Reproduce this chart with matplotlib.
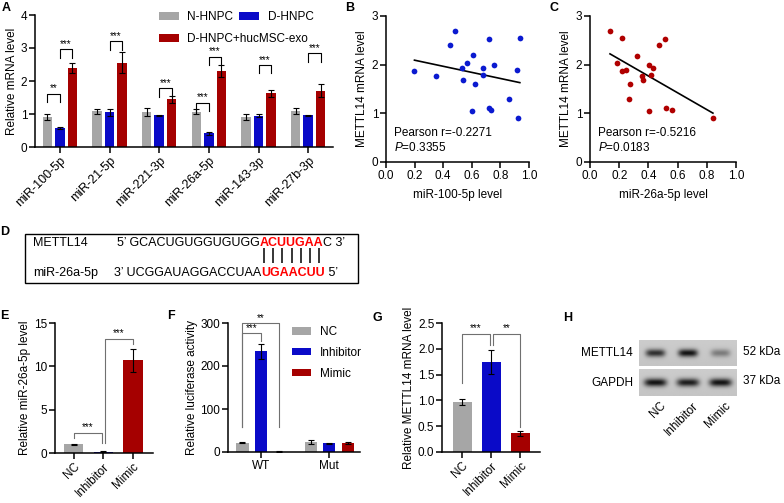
import numpy as np
import matplotlib
matplotlib.use("Agg")
import matplotlib.pyplot as plt
from matplotlib.patches import Rectangle

plt.rcParams['font.family'] = ['Liberation Sans', 'DejaVu Sans']
plt.rcParams['font.size'] = 8.5
plt.rcParams['mathtext.fontset'] = 'custom'
plt.rcParams['mathtext.rm'] = 'Liberation Sans'
plt.rcParams['mathtext.it'] = 'Liberation Sans:italic'

W, H = 784, 503
GREY = '#a6a6a6'
BLUE = '#0a0ac8'
RED = '#a50000'
BRK = '#707070'

# ---- A: qPCR of miRNAs
mirnas = ['miR-100-5p', 'miR-21-5p', 'miR-221-3p', 'miR-26a-5p', 'miR-143-3p', 'miR-27b-3p']
groups_a = ['N-HNPC', 'D-HNPC', 'D-HNPC+hucMSC-exo']
a_n = [0.91, 1.08, 1.05, 1.07, 0.91, 1.10]
a_n_err = [0.08, 0.08, 0.12, 0.07, 0.10, 0.09]
a_d = [0.57, 1.05, 0.96, 0.41, 0.95, 0.96]
a_d_err = [0.03, 0.10, 0.02, 0.04, 0.04, 0.01]
a_exo = [2.39, 2.56, 1.44, 2.31, 1.63, 1.71]
a_exo_err = [0.16, 0.31, 0.12, 0.19, 0.11, 0.19]
# (miRNA index, bar i, bar j, bracket height, label)
a_sig = [(0, 0, 1, 1.62, '**'), (0, 1, 2, 2.96, '***'), (1, 1, 2, 3.2, '***'),
         (2, 1, 2, 1.78, '***'), (3, 0, 1, 1.34, '***'), (3, 1, 2, 2.74, '***'),
         (4, 1, 2, 2.48, '***'), (5, 1, 2, 2.84, '***')]

# ---- B / C: correlations
b_x = [0.199, 0.351, 0.449, 0.484, 0.531, 0.536, 0.566, 0.608, 0.625, 0.601,
       0.678, 0.678, 0.718, 0.753, 0.723, 0.734, 0.863, 0.917, 0.924, 0.936]
b_y = [1.87, 1.76, 2.40, 2.70, 1.94, 1.68, 2.04, 2.19, 1.61, 1.04,
       1.94, 1.78, 2.53, 1.99, 1.11, 1.06, 1.29, 1.90, 0.91, 2.54]
b_text = ['Pearson r=-0.2271', '$P$=0.3355']
c_x = [0.137, 0.219, 0.185, 0.219, 0.249, 0.274, 0.269, 0.320, 0.356, 0.365,
       0.402, 0.416, 0.429, 0.406, 0.475, 0.514, 0.523, 0.562, 0.842]
c_y = [2.70, 2.54, 2.04, 1.87, 1.90, 1.61, 1.29, 2.18, 1.76, 1.68,
       2.00, 1.78, 1.94, 1.04, 2.40, 2.53, 1.11, 1.06, 0.91]
c_text = ['Pearson r=-0.5216', '$P$=0.0183']

# ---- E: miR-26a-5p level
lanes = ['NC', 'Inhibitor', 'Mimic']
e_vals = [1.0, 0.15, 10.7]
e_err = [0.08, 0.05, 1.3]
# (bar i, bar j, height, left leg bottom, right leg bottom, label)
e_sig = [(0, 1, 2.35, 1.7, 1.1, '***'), (1, 2, 13.2, 1.15, 12.6, '***')]

# ---- F: luciferase
f_groups = ['WT', 'Mut']
f_nc = [22, 23]
f_nc_err = [2, 4]
f_inh = [234, 20]
f_inh_err = [17, 2]
f_mim = [1, 21]
f_mim_err = [0.5, 2]
f_sig = [(0, 1, 276, 58, 258, '***'), (0, 2, 300, 58, 58, '**')]

# ---- G: METTL14 mRNA
g_vals = [0.975, 1.745, 0.366]
g_err = [0.06, 0.23, 0.05]
g_sig = [(0, 1, 2.29, 1.33, 2.07, '***'), (1, 2, 2.29, 2.07, 0.49, '**')]

# ---- H: western blot band strength
blot_rows = ['METTL14', 'GAPDH']
blot_kda = ['52 kDa', '37 kDa']
mettl14_band = [0.80, 0.95, 0.40]
gapdh_band = [0.95, 0.90, 0.95]

fig = plt.figure(figsize=(W / 100, H / 100), dpi=100)
ov = fig.add_axes([0, 0, 1, 1])
ov.axis('off')


def px_axes(left, top, right, bottom):
    ax = fig.add_axes([left / W, 1 - bottom / H, (right - left) / W, (bottom - top) / H])
    for s in ('top', 'right'):
        ax.spines[s].set_visible(False)
    for s in ('left', 'bottom'):
        ax.spines[s].set_linewidth(1.1)
    ax.tick_params(direction='out', length=4, width=1.1, labelsize=8.5, pad=1.5)
    ax.patch.set_alpha(0)
    return ax


def bracket(ax, x1, x2, y, b1, b2, lab, color):
    ax.plot([x1, x1, x2, x2], [b1, y, y, b2], color=color, lw=0.8, clip_on=False)
    ax.annotate(lab, ((x1 + x2) / 2, y), xytext=(0, 0.3), textcoords='offset points',
                ha='center', va='bottom', fontsize=7, annotation_clip=False)


def errs(ax, x, v, e):
    ax.errorbar(x, v, yerr=e, fmt='none', ecolor='k', elinewidth=0.8, capsize=2.3, capthick=0.8)


# A
ax = px_axes(35, 15, 333, 147)
x = np.arange(len(mirnas))
off, bw = 0.25, 0.19
handles = []
for i, (v, e, c) in enumerate([(a_n, a_n_err, GREY), (a_d, a_d_err, BLUE), (a_exo, a_exo_err, RED)]):
    handles.append(ax.bar(x + (i - 1) * off, v, bw, color=c, label=groups_a[i]))
    errs(ax, x + (i - 1) * off, v, e)
for g, i, j, h, lab in a_sig:
    bracket(ax, g + (i - 1) * off, g + (j - 1) * off, h, h - 0.25, h - 0.25, lab, 'k')
ax.set_xlim(-0.5, 5.5)
ax.set_ylim(0, 4)
ax.set_yticks(range(5))
ax.set_xticks(x, mirnas, rotation=45, ha='right', rotation_mode='anchor', fontsize=9)
ax.set_ylabel('Relative mRNA level', labelpad=2)
kw = dict(frameon=False, fontsize=8.5, handlelength=1.7, handleheight=0.6, handletextpad=0.7,
          borderpad=0, borderaxespad=0, loc='upper left', bbox_transform=ov.transData)
leg1 = ax.legend(handles=handles[:2], ncol=2, columnspacing=0.5, bbox_to_anchor=(159, 11), **kw)
ax.add_artist(leg1)
ax.legend(handles=handles[2:], bbox_to_anchor=(159, 33), **kw)

# B, C
for (l, r), xs, ys, col, xl, txt in [((386, 529), b_x, b_y, '#0b1ad0', 'miR-100-5p level', b_text),
                                     ((590, 736), c_x, c_y, '#b00000', 'miR-26a-5p level', c_text)]:
    ax = px_axes(l, 16, r, 162)
    ax.scatter(xs, ys, s=17, color=col, linewidths=0, zorder=3)
    k, b0 = np.polyfit(xs, ys, 1)
    xx = np.array([min(xs), max(xs)])
    ax.plot(xx, k * xx + b0, color='k', lw=1.2)
    ax.set_xlim(0, 1)
    ax.set_ylim(0, 3)
    ax.set_yticks(range(4))
    ax.set_xticks(np.linspace(0, 1, 6), ['%.1f' % t for t in np.linspace(0, 1, 6)])
    ax.set_xlabel(xl, labelpad=5)
    ax.set_ylabel('METTL14 mRNA level', labelpad=3)
    ax.text(0.055, 0.6, txt[0], va='center', fontsize=8.5)
    ax.text(0.055, 0.3, txt[1], va='center', fontsize=8.5)

# E
ax = px_axes(55, 323, 153, 453)
xe = np.arange(len(lanes))
ax.bar(xe, e_vals, 0.65, color=[GREY, BLUE, RED])
errs(ax, xe, e_vals, e_err)
for i, j, h, b1, b2, lab in e_sig:
    bracket(ax, xe[i] + (0.06 if i == 1 else 0), xe[j] - (0.06 if j == 1 else 0), h, b1, b2, lab, BRK)
ax.set_xlim(-0.64, 2.68)
ax.set_ylim(0, 15)
ax.set_yticks([0, 5, 10, 15])
ax.set_xticks(xe, lanes, rotation=45, ha='right', rotation_mode='anchor')
ax.set_ylabel('Relative miR-26a-5p level', labelpad=2)

# F
ax = px_axes(228, 323, 360, 452)
xf = np.arange(len(f_groups))
offf, bwf = 0.27, 0.18
fh = []
for i, (v, e, c) in enumerate([(f_nc, f_nc_err, GREY), (f_inh, f_inh_err, BLUE), (f_mim, f_mim_err, RED)]):
    fh.append(ax.bar(xf + (i - 1) * offf, v, bwf, color=c, label=lanes[i]))
    errs(ax, xf + (i - 1) * offf, v, e)
for i, j, h, b1, b2, lab in f_sig:
    bracket(ax, (i - 1) * offf, (j - 1) * offf, h, b1, b2, lab, BRK)
ax.set_xlim(-0.48, 1.45)
ax.set_ylim(0, 300)
ax.set_yticks([0, 100, 200, 300])
ax.set_xticks(xf, f_groups)
ax.set_ylabel('Relative luciferase activity', labelpad=2)
ax.legend(handles=fh, frameon=False, fontsize=8.5, handlelength=1.6, handleheight=0.6,
          handletextpad=0.8, labelspacing=0.75, borderpad=0, borderaxespad=0, loc='upper left',
          bbox_to_anchor=(292, 326), bbox_transform=ov.transData)

# G
ax = px_axes(442, 323, 540, 452)
ax.bar(xe, g_vals, 0.65, color=[GREY, BLUE, RED])
errs(ax, xe, g_vals, g_err)
for i, j, h, b1, b2, lab in g_sig:
    bracket(ax, xe[i] + (0.06 if i == 1 else 0), xe[j] - (0.06 if j == 1 else 0), h, b1, b2, lab, BRK)
ax.set_xlim(-0.69, 2.67)
ax.set_ylim(0, 2.5)
ax.set_yticks(np.arange(0, 2.51, 0.5), ['%.1f' % t for t in np.arange(0, 2.51, 0.5)])
ax.set_xticks(xe, lanes, rotation=45, ha='right', rotation_mode='anchor')
ax.set_ylabel('Relative METTL14 mRNA level', labelpad=2)

# H: blot strips
bl, br = 639, 737
gx, gy = np.meshgrid(np.linspace(0, 1, 240), np.linspace(0, 1, 60))
for (top, bot), levels, name, kda, hw in [((340, 366), mettl14_band, blot_rows[0], blot_kda[0], 0.10),
                                         ((369, 396), gapdh_band, blot_rows[1], blot_kda[1], 0.115)]:
    img = np.full_like(gx, 0.80) - 0.03 * gy
    for n, lev in enumerate(levels):
        c = (n + 0.5) / len(levels)
        img -= lev * 0.75 * np.exp(-((gx - c) / hw) ** 4 - ((gy - 0.5) / 0.15) ** 2)
    ov.imshow(img, cmap='gray', vmin=0, vmax=1, extent=(bl, br, bot, top), aspect='auto',
              interpolation='bilinear')
    ov.text(633, (top + bot) / 2, name, ha='right', va='center', fontsize=8.5)
    ov.text(743, (top + bot) / 2 - 1, kda, ha='left', va='center', fontsize=8.5)
for n, lab in enumerate(lanes):
    lx = bl + (n + 0.5) * (br - bl) / len(lanes)
    ov.text(lx + 4, 400, lab, rotation=45, ha='right', va='top', rotation_mode='anchor', fontsize=8.5)

# D: sequence alignment
ov.add_patch(Rectangle((25, 234), 333, 49, fill=False, lw=1, ec='k'))


def seq_row(y, name, x0, pre, red, post):
    ov.text(33, y, name, va='center', fontsize=9)
    t1 = ov.text(x0, y, pre, va='center', fontsize=9)
    t2 = ov.annotate(red, xy=(1, 0), xycoords=t1, va='bottom', ha='left', fontsize=9,
                     color='#ff0000', fontweight='bold')
    ov.annotate(post, xy=(1, 0), xycoords=t2, va='bottom', ha='left', fontsize=9)
    return t2


red1 = seq_row(243, 'METTL14', 117, '5\u2019 GCACUGUGGUGUGG', 'ACUUGAA', 'C 3\u2019')
seq_row(273, 'miR-26a-5p', 114, '3\u2019 UCGGAUAGGACCUAA', 'UGAACUU', ' 5\u2019')

for a, (xp, yp) in zip('ABCDEFGH', [(2, 2), (345, 2), (550, 2), (0, 226), (0, 310), (167, 310),
                                   (373, 312), (563, 312)]):
    ov.text(xp, yp, a, ha='left', va='top', fontsize=9, fontweight='bold')

ov.set_xlim(0, W)
ov.set_ylim(H, 0)
fig.canvas.draw()
bb = red1.get_window_extent()
inv = ov.transData.inverted()
(rx0, _), (rx1, _) = inv.transform([[bb.x0, bb.y0], [bb.x1, bb.y1]])
step = (rx1 - rx0) / 7
ov.vlines(rx0 + step * (np.arange(7) + 0.5), 248, 263, color='k', lw=1.1)
ov.set_xlim(0, W)
ov.set_ylim(H, 0)

fig.savefig('out.png', dpi=100)
